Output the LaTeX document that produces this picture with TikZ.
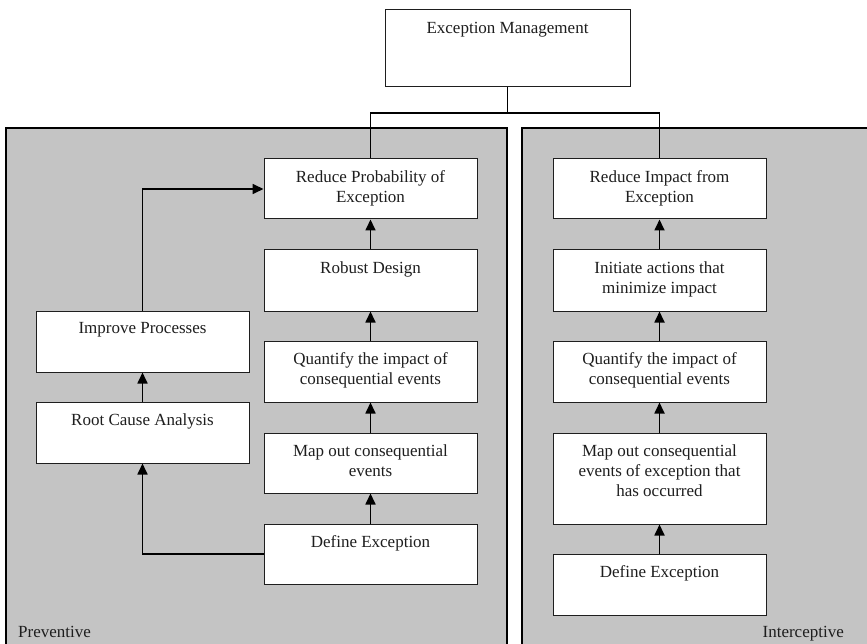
\documentclass[tikz,border=0pt]{standalone}
\usepackage{fontspec}
\setmainfont{Liberation Serif}
\usetikzlibrary{arrows.meta,calc}
\definecolor{panelgray}{RGB}{196,196,196}
\definecolor{ink}{RGB}{30,30,30}
\begin{document}
\begin{tikzpicture}[x=1pt,y=-1pt,
  panel/.style={draw=black,line width=1.4pt,fill=panelgray},
  box/.style={draw=ink,line width=1pt,fill=white,inner sep=0pt},
  lbl/.style={text=ink,align=center,inner sep=0pt,anchor=north,font=\fontsize{17}{20}\selectfont},
  side/.style={text=ink,inner sep=0pt,font=\fontsize{17}{20}\selectfont},
  link/.style={draw=black,line width=1.2pt},
  arr/.style={draw=black,line width=1.7pt,-{Triangle[width=10pt,length=11pt]}}]
\useasboundingbox (0,0) rectangle (867,644);
\clip (0,0) rectangle (867,644);
\fill[white] (0,0) rectangle (867,644);
% panels
\path[panel] (6,128) rectangle (507,670);
\path[panel] (522,128) rectangle (890,670);
% top box
\node[box,minimum width=245pt,minimum height=77pt] (top) at (507.5,48.5) {};
% left column
\node[box,minimum width=213pt,minimum height=60pt] (rp) at (370.5,189) {};
\node[box,minimum width=213pt,minimum height=61pt] (rd) at (370.5,280.5) {};
\node[box,minimum width=213pt,minimum height=61pt] (qi) at (370.5,371.5) {};
\node[box,minimum width=213pt,minimum height=60pt] (mo) at (370.5,463) {};
\node[box,minimum width=213pt,minimum height=60pt] (de) at (370.5,554) {};
% side column
\node[box,minimum width=213pt,minimum height=61pt] (ip) at (142.5,341.5) {};
\node[box,minimum width=213pt,minimum height=61pt] (rc) at (142.5,432.5) {};
% right column
\node[box,minimum width=213pt,minimum height=60pt] (ri) at (659.5,189) {};
\node[box,minimum width=213pt,minimum height=61pt] (ia) at (659.5,280.5) {};
\node[box,minimum width=213pt,minimum height=61pt] (qr) at (659.5,371.5) {};
\node[box,minimum width=213pt,minimum height=91pt] (mr) at (659.5,478.5) {};
\node[box,minimum width=213pt,minimum height=61pt] (dr) at (659.5,584.5) {};
% labels
\node[lbl] at ([yshift=-13pt]top.north) {Exception Management};
\node[lbl] at ([yshift=-12pt]rp.north) {Reduce Probability of\\Exception};
\node[lbl] at ([yshift=-12pt]rd.north) {Robust Design};
\node[lbl] at ([yshift=-12pt]qi.north) {Quantify the impact of\\consequential events};
\node[lbl] at ([yshift=-12pt]mo.north) {Map out consequential\\events};
\node[lbl] at ([yshift=-12pt]de.north) {Define Exception};
\node[lbl] at ([yshift=-12pt]ip.north) {Improve Processes};
\node[lbl] at ([yshift=-12pt]rc.north) {Root Cause Analysis};
\node[lbl] at ([yshift=-12pt]ri.north) {Reduce Impact from\\Exception};
\node[lbl] at ([yshift=-12pt]ia.north) {Initiate actions that\\minimize impact};
\node[lbl] at ([yshift=-12pt]qr.north) {Quantify the impact of\\consequential events};
\node[lbl] at ([yshift=-12pt]mr.north) {Map out consequential\\events of exception that\\has occurred};
\node[lbl] at ([yshift=-12pt]dr.north) {Define Exception};
\node[side,anchor=base west] (prev) at (18,637) {Preventive};
\node[side,anchor=base east] (inter) at (844,637) {Interceptive};
% bracket connectors
\coordinate (bl) at (370.5,113);
\coordinate (br) at (659.5,113);
\draw[link] (top.south) -- (top.south |- bl);
\draw[link] (rp.north) -- (bl) -- (br) -- (ri.north);
% arrows
\draw[arr] (rd.north) -- (rp.south);
\draw[arr] (qi.north) -- (rd.south);
\draw[arr] (mo.north) -- (qi.south);
\draw[arr] (de.north) -- (mo.south);
\draw[arr] (ip.north) |- (rp.west);
\draw[arr] (rc.north) -- (ip.south);
\draw[arr] (de.west) -| (rc.south);
\draw[arr] (ia.north) -- (ri.south);
\draw[arr] (qr.north) -- (ia.south);
\draw[arr] (mr.north) -- (qr.south);
\draw[arr] (dr.north) -- (mr.south);
\end{tikzpicture}
\end{document}
